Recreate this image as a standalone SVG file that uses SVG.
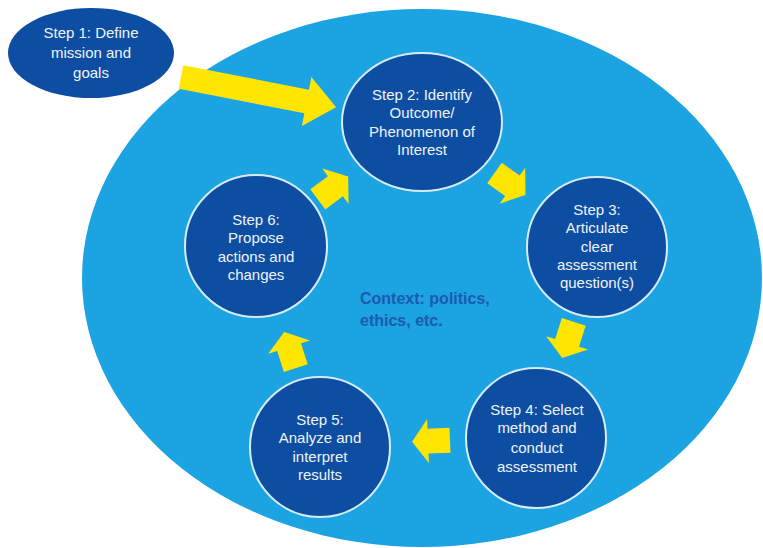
<svg xmlns="http://www.w3.org/2000/svg" width="763" height="548" viewBox="0 0 763 548">
<style>
.bg{fill:#1CA3E2}
.step{fill:#0D4EA2;stroke:#D6ECF8;stroke-width:2}
.s1{fill:#0D4EA2}
.lbl{font-family:"Liberation Sans",Arial,sans-serif;font-size:15px;fill:#EEF4FB;text-anchor:middle}
.ctx{font-family:"Liberation Sans",Arial,sans-serif;font-size:16px;font-weight:bold;fill:#1B5BAA}
.arr{fill:#FFE600}
</style>
<defs>
<polygon id="blk" points="-19,-12.5 3,-12.5 3,-22 19,0 3,22 3,12.5 -19,12.5"/>
</defs>
<rect width="763" height="548" fill="#FFFFFF"/>
<g id="context">
<ellipse class="bg" cx="422" cy="278" rx="340" ry="269"/>
<text class="ctx" x="360" y="304">Context: politics,</text>
<text class="ctx" x="360" y="326">ethics, etc.</text>
</g>
<g id="connectors">
<polygon class="arr" transform="translate(181,77) rotate(11)" points="0,-12 128,-12 128,-25 158,0 128,25 128,12 0,12"/>
<use href="#blk" class="arr" transform="translate(510,184) rotate(35.5)"/>
<use href="#blk" class="arr" transform="translate(568,340) rotate(107.7)"/>
<use href="#blk" class="arr" transform="translate(431,441) rotate(177.6)"/>
<use href="#blk" class="arr" transform="translate(290,350) rotate(-107.7)"/>
<use href="#blk" class="arr" transform="translate(333,188) rotate(-36.8)"/>
</g>
<g id="step1">
<ellipse class="s1" cx="91" cy="53" rx="83" ry="45"/>
<text class="lbl" x="91" y="38">Step 1: Define</text>
<text class="lbl" x="91" y="58">mission and</text>
<text class="lbl" x="91" y="78">goals</text>
</g>
<g id="step2">
<ellipse class="step" cx="422" cy="122" rx="80" ry="69"/>
<text class="lbl" x="422" y="100">Step 2: Identify</text>
<text class="lbl" x="422" y="118">Outcome/</text>
<text class="lbl" x="422" y="137">Phenomenon of</text>
<text class="lbl" x="422" y="155">Interest</text>
</g>
<g id="step3">
<circle class="step" cx="597" cy="247" r="70"/>
<text class="lbl" x="597" y="215">Step 3:</text>
<text class="lbl" x="597" y="233">Articulate</text>
<text class="lbl" x="597" y="252">clear</text>
<text class="lbl" x="597" y="270">assessment</text>
<text class="lbl" x="597" y="288">question(s)</text>
</g>
<g id="step4">
<circle class="step" cx="536" cy="438" r="70"/>
<text class="lbl" x="537" y="415">Step 4: Select</text>
<text class="lbl" x="537" y="433">method and</text>
<text class="lbl" x="537" y="453">conduct</text>
<text class="lbl" x="537" y="472">assessment</text>
</g>
<g id="step5">
<circle class="step" cx="320" cy="447" r="70"/>
<text class="lbl" x="320" y="425">Step 5:</text>
<text class="lbl" x="320" y="443">Analyze and</text>
<text class="lbl" x="320" y="462">interpret</text>
<text class="lbl" x="320" y="480">results</text>
</g>
<g id="step6">
<circle class="step" cx="256" cy="246" r="71"/>
<text class="lbl" x="256" y="225">Step 6:</text>
<text class="lbl" x="256" y="243">Propose</text>
<text class="lbl" x="256" y="262">actions and</text>
<text class="lbl" x="256" y="280">changes</text>
</g>
</svg>
